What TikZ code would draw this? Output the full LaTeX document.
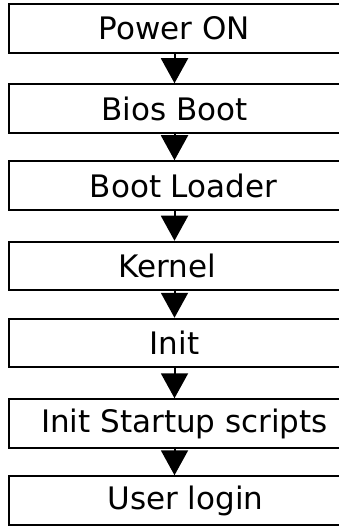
\documentclass[tikz,border=0pt]{standalone}
\usepackage{fontspec}
\setmainfont{DejaVu Sans}
\usetikzlibrary{arrows.meta}
\tikzset{
  stepbox/.style={draw=black, line width=2pt, rectangle, minimum width=332pt,
    minimum height=48.5pt, inner sep=0pt, fill=white,
    font=\fontsize{31}{36}\selectfont},
  flow/.style={draw=black, line width=2pt,
    -{Triangle[width=27pt,length=25pt]}}
}
\begin{document}
\begin{tikzpicture}[x=1pt,y=-1pt]
  \useasboundingbox (0,0) rectangle (339,526);
  % boot sequence, one box per stage
  \node[stepbox] (b1) at (174.5,28.5)  {Power ON};
  \node[stepbox] (b2) at (174.5,108.5) {Bios Boot};
  \node[stepbox] (b3) at (174.5,185.5) {\hspace*{18pt}Boot Loader};
  \node[stepbox] (b4) at (174.5,266)   {\hspace*{-14pt}Kernel};
  \node[stepbox] (b5) at (174.5,343)   {Init};
  \node[stepbox] (b6) at (174.5,423.5) {\hspace*{20pt}Init Startup scripts};
  \node[stepbox] (b7) at (174.5,500.5) {\hspace*{22pt}User login};
  % arrows between consecutive stages
  \foreach \a/\b in {b1/b2,b2/b3,b3/b4,b4/b5,b5/b6,b6/b7}
    \draw[flow] (\a.south) -- (\b.north);
\end{tikzpicture}
\end{document}
